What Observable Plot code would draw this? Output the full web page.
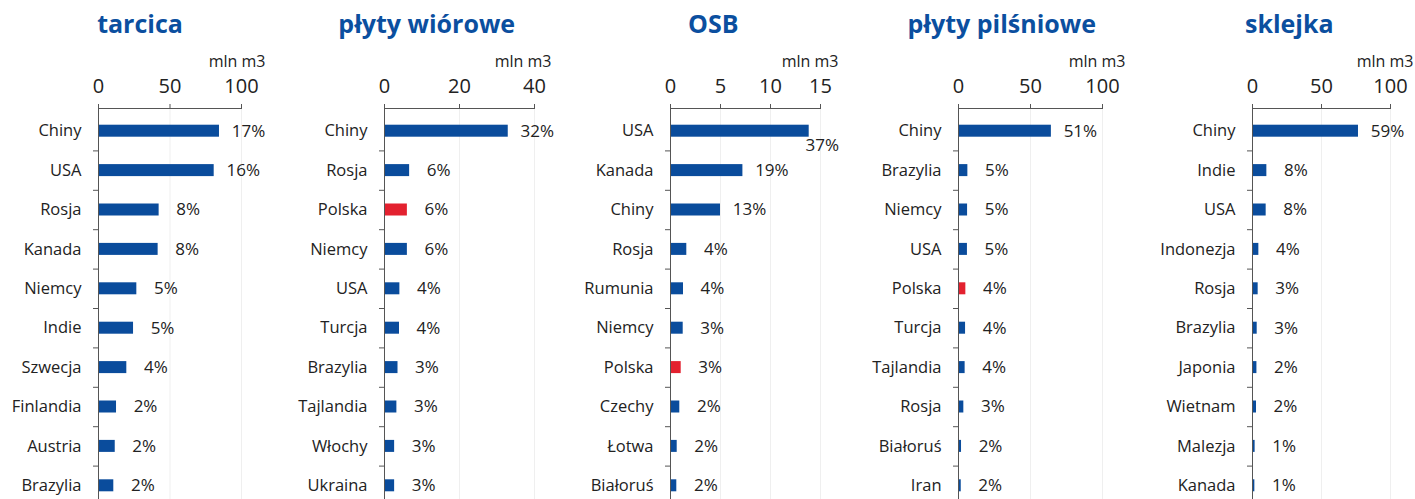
<!DOCTYPE html>
<html><head><meta charset="utf-8">
<script src="https://cdn.jsdelivr.net/npm/d3@7"></script>
<script src="https://cdn.jsdelivr.net/npm/@observablehq/plot@0.6"></script>
<style>
html,body{margin:0;padding:0;background:#fff;overflow:hidden;}
#wrap{position:relative;width:1415px;height:499px;overflow:hidden;font-family:"Open Sans",sans-serif;}
.panel{position:absolute;top:0;}
.title{position:absolute;top:11px;transform:translateX(-50%);font-size:25px;font-weight:700;color:#0b4f9f;line-height:1;white-space:nowrap;z-index:2;}
</style></head><body><div id="wrap"></div>
<script>
// ---- data ----
const titles = ["tarcica", "płyty wiórowe", "OSB", "płyty pilśniowe", "sklejka"];
const unitLabel = "mln m3";

const tarcicaCountries = ["Chiny","USA","Rosja","Kanada","Niemcy","Indie","Szwecja","Finlandia","Austria","Brazylia"];
const tarcicaValues    = [84.6, 80.9, 42.4, 41.7, 26.8, 24.5, 19.8, 12.6, 11.7, 10.7];
const tarcicaPct       = [17, 16, 8, 8, 5, 5, 4, 2, 2, 2];

const wioroweCountries = ["Chiny","Rosja","Polska","Niemcy","USA","Turcja","Brazylia","Tajlandia","Włochy","Ukraina"];
const wioroweValues    = [33.0, 6.7, 6.1, 6.1, 4.1, 4.0, 3.6, 3.3, 2.7, 2.7];
const wiorowePct       = [32, 6, 6, 6, 4, 4, 3, 3, 3, 3];

const osbCountries = ["USA","Kanada","Chiny","Rosja","Rumunia","Niemcy","Polska","Czechy","Łotwa","Białoruś"];
const osbValues    = [13.87, 7.24, 5.0, 1.63, 1.3, 1.27, 1.07, 0.93, 0.67, 0.63];
const osbPct       = [37, 19, 13, 4, 4, 3, 3, 2, 2, 2];

const pilsnioweCountries = ["Chiny","Brazylia","Niemcy","USA","Polska","Turcja","Tajlandia","Rosja","Białoruś","Iran"];
const pilsnioweValues    = [64.5, 6.5, 6.3, 6.2, 5.1, 4.9, 4.6, 3.7, 2.1, 1.9];
const pilsniowePct       = [51, 5, 5, 5, 4, 4, 4, 3, 2, 2];

const sklejkaCountries = ["Chiny","Indie","USA","Indonezja","Rosja","Brazylia","Japonia","Wietnam","Malezja","Kanada"];
const sklejkaValues    = [76.8, 10.4, 9.9, 4.6, 4.1, 3.4, 3.2, 2.9, 1.9, 1.7];
const sklejkaPct       = [59, 8, 8, 4, 3, 3, 2, 2, 1, 1];

const axisMax   = [100, 40, 15, 100, 100];
const axisTicks = [[0,50,100],[0,20,40],[0,5,10,15],[0,50,100],[0,50,100]];
const highlight = "Polska";

const countries = [tarcicaCountries, wioroweCountries, osbCountries, pilsnioweCountries, sklejkaCountries];
const values    = [tarcicaValues, wioroweValues, osbValues, pilsnioweValues, sklejkaValues];
const pcts      = [tarcicaPct, wiorowePct, osbPct, pilsniowePct, sklejkaPct];

// ---- layout ----
const BLUE = "#0a4c9c", RED = "#e3212f", AX = "#555";
const layout = [
  {left: 0,    ml: 98,  mr: 42, ldx: 24, tx: 140},
  {left: 283,  ml: 101, mr: 32, ldx: 17, tx: 426.7},
  {left: 566,  ml: 104, mr: 29, ldx: 18, tx: 713.3},
  {left: 849,  ml: 109, mr: 30, ldx: 23, tx: 1001.7},
  {left: 1132, ml: 120, mr: 25, ldx: 23, tx: 1289.3}
];

const wrap = document.getElementById("wrap");
const H = 505, MT = 108, MB = 0, IT = 3;

titles.forEach((t, i) => {
  const L = layout[i];
  const data = countries[i].map((c, j) => ({cat: c, value: values[i][j], pct: pcts[i][j] + "%"}));
  const max = axisMax[i];
  const step = (H - MT - MB - IT) / countries[i].length;
  const inset = (step - 12) / 2;
  const plot = Plot.plot({
    width: 283, height: H, marginTop: MT, marginBottom: MB, marginLeft: L.ml, marginRight: L.mr,
    style: {background: "transparent", fontFamily: "Open Sans, sans-serif", fontSize: "17px", color: "#222", overflow: "visible"},
    x: {domain: [0, max], axis: null},
    y: {domain: countries[i], padding: 0, insetTop: IT, round: false, axis: null},
    marks: [
      Plot.gridX({ticks: axisTicks[i], stroke: "#efefef", strokeOpacity: 1}),
      Plot.barX(data.filter(d => d.cat !== highlight), {x: "value", y: "cat", fill: BLUE, insetTop: inset, insetBottom: inset}),
      Plot.barX(data.filter(d => d.cat === highlight), {x: "value", y: "cat", fill: RED, insetTop: inset, insetBottom: inset}),
      Plot.axisX({anchor: "top", ticks: axisTicks[i], tickSize: 5, tickPadding: 11, fontSize: 20, stroke: AX, label: null}),
      Plot.frame({anchor: "top", stroke: AX}),
      Plot.ruleX([0], {stroke: AX}),
      Plot.axisY({tickSize: 0, tickPadding: 17, fontSize: 16.5, label: null}),
      Plot.axisY({tickSize: 5, tickFormat: () => "", dy: step / 2, stroke: AX, label: null}),
      Plot.text(data.filter(d => d.value <= 0.85 * max), {x: "value", y: "cat", text: "pct", dx: 29, fontSize: 17, fill: "#222"}),
      Plot.text(data.filter(d => d.value > 0.85 * max), {x: "value", y: "cat", text: "pct", dx: 13, dy: 14, fontSize: 17, fill: "#222"}),
      Plot.text([unitLabel], {frameAnchor: "top-right", textAnchor: "end", dx: L.ldx, dy: -53, fontSize: 16, fill: "#222"})
    ]
  });
  const div = document.createElement("div");
  div.className = "panel";
  div.style.left = L.left + "px";
  div.appendChild(plot);
  wrap.appendChild(div);
  const tt = document.createElement("div");
  tt.className = "title";
  tt.style.left = L.tx + "px";
  tt.textContent = t;
  wrap.appendChild(tt);
});
</script>
</body></html>
